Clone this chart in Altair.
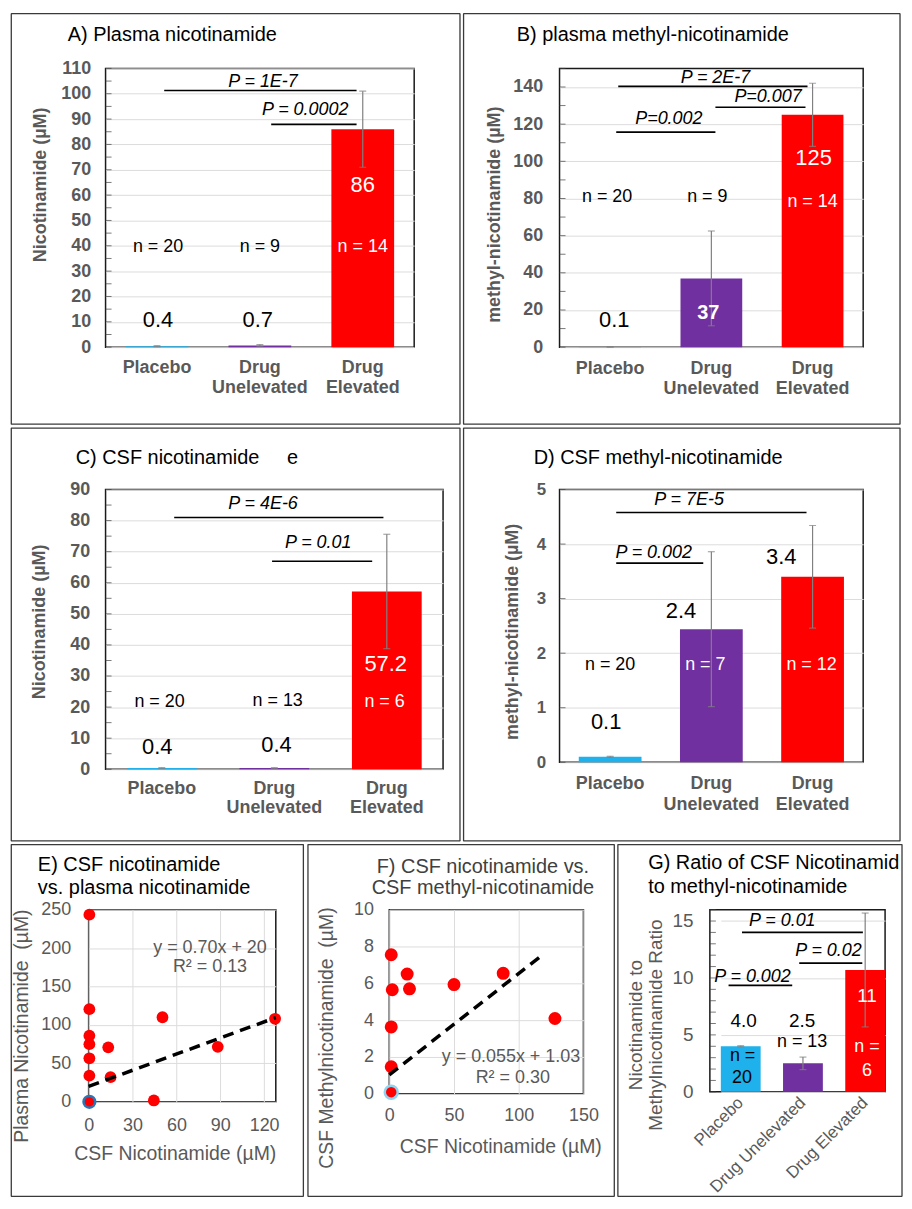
import altair as alt
import pandas as pd

FONT = "Liberation Sans"
AX_GRAY = "#595959"
GRID = "#dcdcdc"
NBSP = "\u00a0"

groups = ["Placebo", "Drug Unelevated", "Drug Elevated"]
group_colors = ["#1fb1eb", "#7030a0", "#ff0000"]

# ---------------- A) Plasma nicotinamide
a_mean = [0.4, 0.7, 86]
a_sd = [0.2, 0.3, 15]
a_minor = list(range(0, 111, 5))
a_lab_text = ["0.4", "0.7", "86", "n = 20", "n = 9", "n = 14"]
a_lab_x = [0.51, 1.48, 2.5, 0.51, 1.5, 2.5]
a_lab_y = [10.6, 10.6, 64, 39.4, 39.4, 39.4]
a_lab_inside = [False, False, True, False, False, True]
a_lab_kind = ["value", "value", "value", "n", "n", "n"]
a_p_text = ["P = 1E-7", "P = 0.0002"]
a_p_from = [0.57, 1.61]
a_p_to = [2.44, 2.44]
a_p_y = [101.3, 87.9]
a_p_tx = [1.53, 1.94]
a_p_ty = [104.8, 93.4]

# ---------------- B) plasma methyl-nicotinamide
b_mean = [0.1, 37, 125]
b_sd = [0.05, 25.5, 17]
b_minor = list(range(0, 151, 10))
b_lab_text = ["0.1", "37", "125", "n = 20", "n = 9", "n = 14"]
b_lab_x = [0.54, 1.47, 2.51, 0.47, 1.46, 2.5]
b_lab_y = [14.5, 18.2, 101.8, 80.9, 80.9, 78.2]
b_lab_inside = [False, True, True, False, False, True]
b_lab_kind = ["value", "valuebold", "value", "n", "n", "n"]
b_p_text = ["P = 2E-7", "P=0.007", "P=0.002"]
b_p_from = [0.58, 1.54, 0.56]
b_p_to = [2.45, 2.43, 1.54]
b_p_y = [140.3, 129.1, 115.7]
b_p_tx = [1.54, 2.06, 1.08]
b_p_ty = [144.6, 134.4, 122.7]

# ---------------- C) CSF nicotinamide
c_mean = [0.4, 0.4, 57.2]
c_sd = [0.1, 0.1, 18.4]
c_minor = list(range(0, 91, 5))
c_lab_text = ["0.4", "0.4", "57.2", "n = 20", "n = 13", "n = 6"]
c_lab_x = [0.46, 1.52, 2.49, 0.48, 1.53, 2.48]
c_lab_y = [7.0, 7.7, 34, 21.5, 22.1, 21.5]
c_lab_inside = [False, False, True, False, False, True]
c_lab_kind = ["value", "value", "value", "n", "n", "n"]
c_p_text = ["P = 4E-6", "P = 0.01"]
c_p_from = [0.61, 1.48]
c_p_to = [2.47, 2.37]
c_p_y = [81.0, 66.9]
c_p_tx = [1.4, 1.89]
c_p_ty = [85.2, 72.7]

# ---------------- D) CSF methyl-nicotinamide
d_mean = [0.1, 2.44, 3.4]
d_sd = [0.01, 1.42, 0.94]
d_minor = [0, 1, 2, 3, 4, 5]
d_lab_text = ["0.1", "2.4", "3.4", "n = 20", "n = 7", "n = 12"]
d_lab_x = [0.46, 1.2, 2.19, 0.5, 1.44, 2.49]
d_lab_y = [0.73, 2.77, 3.77, 1.78, 1.78, 1.78]
d_lab_inside = [False, False, False, False, True, True]
d_lab_kind = ["value", "value", "value", "n", "n", "n"]
d_p_text = ["P = 7E-5", "P = 0.002"]
d_p_from = [0.56, 0.56]
d_p_to = [2.44, 1.42]
d_p_y = [4.58, 3.65]
d_p_tx = [1.28, 0.93]
d_p_ty = [4.8, 3.83]

# ---------------- E) CSF vs plasma nicotinamide
e_csf = [0.5, 0.5, 0.5, 0.5, 0.5, 0.5, 13.4, 15, 50.5, 44.6, 88.3, 127.5]
e_plasma = [243.5, 120.5, 86, 75, 56.6, 34, 70.8, 32, 110, 1.7, 71.5, 108]
e_ring_csf = [0.5]
e_ring_plasma = [0]
e_slope, e_icpt = 0.70, 20
e_fit_x = [0, 128]
e_eq_text = ["y = 0.70x + 20", "R² = 0.13"]
e_eq_x = [83, 83]
e_eq_y = [199.5, 174.9]

# ---------------- F) CSF nicotinamide vs CSF methyl-nicotinamide
f_csf = [1.5, 13.8, 2.3, 15.6, 1.5, 1.5, 50, 88, 128]
f_methyl = [7.55, 6.5, 5.65, 5.7, 3.63, 1.47, 5.93, 6.54, 4.09]
f_ring_csf = [1.5]
f_ring_methyl = [0.09]
f_slope, f_icpt = 0.055, 1.03
f_fit_x = [0, 117]
f_eq_text = ["y = 0.055x + 1.03", "R² = 0.30"]
f_eq_x = [94, 95.4]
f_eq_y = [2.0, 0.86]

# ---------------- G) Ratio
g_mean = [4.0, 2.5, 10.7]
g_sd = [0.05, 0.55, 5.0]
g_minor = list(range(0, 17, 1))
g_lab_text = ["4.0", "2.5", "n = 13", "n =", "20", "11", "n =", "6"]
g_lab_x = [0.58, 1.58, 1.58, 0.56, 0.55, 2.69, 2.69, 2.69]
g_lab_y = [6.2, 6.2, 4.4, 3.15, 1.2, 8.4, 3.9, 1.8]
g_lab_inside = [False, False, False, False, False, True, True, True]
g_lab_kind = ["value", "value", "n", "n", "n", "value", "n", "n"]
g_p_text = ["P = 0.01", "P = 0.02", "P = 0.002"]
g_p_from = [0.55, 1.53, 0.32]
g_p_to = [2.62, 2.61, 1.41]
g_p_y = [14.0, 11.3, 9.35]
g_p_tx = [1.24, 2.03, 0.73]
g_p_ty = [15.0, 12.4, 10.1]


def border_layer(b):
    l, r, t, bt = b
    return alt.Chart(alt.Data(values=[{"k": 0}])).mark_rect(
        fillOpacity=0, stroke="#3a3a3a", strokeWidth=1.3, strokeJoin="bevel"
    ).encode(x=alt.value(l), x2=alt.value(r), y=alt.value(t), y2=alt.value(bt))


def spacer():
    return alt.Chart(alt.Data(values=[{"k": 0}])).mark_rect(fillOpacity=0).encode(
        x=alt.value(0), x2=alt.value(1), y=alt.value(0), y2=alt.value(1)
    ).properties(width=1, height=1, view=alt.ViewBackground(strokeOpacity=0, strokeWidth=0))


def text_layer(text, x, y, align="left", color="black", size=20, limit=0,
               angle=0, weight="normal"):
    kw = {}
    if limit:
        kw["limit"] = limit
        kw["ellipsis"] = "\u200b"
    if angle:
        kw["angle"] = angle
    return alt.Chart(pd.DataFrame({"t": [text]})).mark_text(
        align=align, baseline="middle", fontSize=size, color=color, font=FONT,
        fontWeight=weight, **kw
    ).encode(x=alt.value(x), y=alt.value(y), text="t:N")


def bar_panel(mean, sd, minor, lab_text, lab_x, lab_y, lab_inside, lab_kind,
              p_text, p_from, p_to, p_y, p_tx, p_ty, cfg):
    w, h = cfg["w"], cfg["h"]
    yscale = alt.Scale(domain=cfg["ydom"], nice=False, zero=True)
    xq = alt.Scale(domain=[0, 3], nice=False, zero=False)
    pad = cfg["pad"]
    if cfg.get("xrange"):
        xband = alt.Scale(domain=groups, range=cfg["xrange"], paddingInner=pad, paddingOuter=0)
    else:
        xband = alt.Scale(domain=groups, paddingInner=pad, paddingOuter=pad / 2)
    bold = cfg.get("bold", True)
    wt = "bold" if bold else "normal"
    df = pd.DataFrame({
        "grp": groups, "mean": mean,
        "lo": [m - s for m, s in zip(mean, sd)],
        "hi": [m + s for m, s in zip(mean, sd)],
    })
    if cfg.get("rot"):
        xaxis = alt.Axis(title=None, labelAngle=-45, labelAlign="right", labelBaseline="middle",
                         labelFontSize=17, labelColor=AX_GRAY, labelPadding=cfg["xlp"],
                         ticks=False, domain=False, labelFont=FONT, labelFontWeight="normal",
                         grid=False)
    else:
        xaxis = alt.Axis(title=None, labelAngle=0,
                         labelExpr="datum.label == 'Placebo' ? 'Placebo' : split(datum.label, ' ')",
                         labelFontSize=18, labelFontWeight="bold", labelColor=AX_GRAY,
                         labelPadding=cfg["xlp"], labelLineHeight=cfg["xlh"],
                         ticks=False, domain=False, labelFont=FONT, grid=False)
    yaxis = alt.Axis(values=cfg["yvals"], title=None, grid=True, gridColor=GRID,
                     ticks=False, domain=False, labelFontSize=cfg["ylfs"], labelFontWeight=wt,
                     labelColor=AX_GRAY, labelPadding=cfg["ylp"], labelFont=FONT)

    def xb():
        return alt.X("grp:N", sort=groups, scale=xband, axis=xaxis)

    def yv(field):
        return alt.Y(field, scale=yscale, axis=yaxis)

    def xa(field):
        return alt.X(field, scale=xq, axis=None)

    base = alt.Chart(df)
    bars = base.mark_bar().encode(
        x=xb(), y=yv("mean:Q"),
        color=alt.Color("grp:N", scale=alt.Scale(domain=groups, range=group_colors), legend=None),
    )
    err = base.mark_rule(color="#808080", strokeWidth=1.2).encode(
        x=xb(), y=yv("lo:Q"), y2="hi:Q")
    cap_hi = base.mark_tick(orient="horizontal", size=7, thickness=1.2, color="#808080").encode(
        x=xb(), y=yv("hi:Q"))
    cap_lo = base.mark_tick(orient="horizontal", size=7, thickness=1.2, color="#808080").encode(
        x=xb(), y=yv("lo:Q"))
    bar_group = alt.layer(bars, err, cap_hi, cap_lo)

    ldf = pd.DataFrame({"t": lab_text, "x": lab_x, "y": lab_y,
                        "inside": lab_inside, "kind": lab_kind})
    ann = []
    ann.append(alt.Chart(pd.DataFrame({"v": minor})).mark_tick(
        orient="horizontal", size=6, thickness=1, color="#404040").encode(
        x=alt.value(3), y=yv("v:Q")))
    pdf = pd.DataFrame({"t": p_text, "x1": p_from, "x2": p_to, "y": p_y, "tx": p_tx, "ty": p_ty})
    ann.append(alt.Chart(pdf).mark_rule(color="black", strokeWidth=1.6).encode(
        x=xa("x1:Q"), x2="x2:Q", y=yv("y:Q")))
    ann.append(alt.Chart(pdf).mark_text(fontStyle="italic", fontSize=cfg["psize"], font=FONT,
                                        baseline="middle", color="black").encode(
        x=xa("tx:Q"), y=yv("ty:Q"), text="t:N"))
    for inside in [False, True]:
        for kind, size in cfg["sizes"].items():
            sub = ldf[(ldf["inside"] == inside) & (ldf["kind"] == kind)][["t", "x", "y"]]
            if len(sub) == 0:
                continue
            ann.append(alt.Chart(sub).mark_text(
                fontSize=size, color="white" if inside else "black",
                fontWeight="bold" if kind == "valuebold" else "normal",
                font=FONT, baseline="middle").encode(
                x=xa("x:Q"), y=yv("y:Q"), text="t:N"))
    extra = []
    for (txt, tx, ty) in cfg["ytitle"]:
        extra.append(text_layer(txt, tx, ty, align="center", color=AX_GRAY,
                                size=cfg["ytfs"], angle=270, weight=wt))
    for t in cfg["titles"]:
        extra.append(text_layer(*t))
    return alt.layer(border_layer(cfg["border"]), bar_group, alt.layer(*ann), *extra).resolve_scale(
        x="independent").properties(width=w, height=h)


def scatter_panel(px, py, rx, ry, ring_col, fit_x, slope, icpt, eq_t, eq_x, eq_y, cfg):
    xs = alt.Scale(domain=cfg["xdom"], nice=False, zero=False)
    ys = alt.Scale(domain=cfg["ydom"], nice=False, zero=False)
    xaxis = alt.Axis(values=cfg["xvals"], title=None, grid=True, gridColor=GRID,
                     ticks=False, domain=False, labelFontSize=18, labelColor=AX_GRAY,
                     labelPadding=cfg["xlp"], labelFont=FONT, labelFlush=False)
    yaxis = alt.Axis(values=cfg["yvals"], title=None, grid=True, gridColor=GRID,
                     ticks=False, domain=False, labelFontSize=18, labelColor=AX_GRAY,
                     labelPadding=cfg["ylp"], labelFont=FONT, labelFlush=False)

    def enc(ch):
        return ch.encode(x=alt.X("x:Q", scale=xs, axis=xaxis), y=alt.Y("y:Q", scale=ys, axis=yaxis))

    pts = enc(alt.Chart(pd.DataFrame({"x": px, "y": py})).mark_circle(
        size=cfg["size"], color="#ff0000", opacity=1))
    ring = enc(alt.Chart(pd.DataFrame({"x": rx, "y": ry})).mark_circle(
        size=cfg["size"], fill="#ff0000", stroke=ring_col, strokeWidth=2.5, opacity=1))
    fit = enc(alt.Chart(pd.DataFrame({"x": fit_x, "y": [slope * v + icpt for v in fit_x]})).mark_line(
        color="black", strokeWidth=3.5, strokeDash=[11, 7]))
    eq = alt.Chart(pd.DataFrame({"t": eq_t, "x": eq_x, "y": eq_y})).mark_text(
        fontSize=18, color=AX_GRAY, font=FONT, baseline="middle").encode(
        x=alt.X("x:Q", scale=xs, axis=xaxis), y=alt.Y("y:Q", scale=ys, axis=yaxis), text="t:N")
    layers = [border_layer(cfg["border"]), pts, ring, fit, eq,
              text_layer(cfg["xtitle"], cfg["xtx"], cfg["h"] + cfg["xty"], align="center",
                         color=AX_GRAY, size=19.5),
              text_layer(cfg["ytitle"], cfg["ytx"], cfg["yty"], align="center",
                         color=AX_GRAY, size=19.5, angle=270)]
    for t in cfg["titles"]:
        layers.append(text_layer(*t))
    return alt.layer(*layers).properties(width=cfg["w"], height=cfg["h"])


bar_sizes = {"value": 22, "valuebold": 20, "n": 18}

panel_a = bar_panel(a_mean, a_sd, a_minor, a_lab_text, a_lab_x, a_lab_y, a_lab_inside, a_lab_kind,
                    a_p_text, a_p_from, a_p_to, a_p_y, a_p_tx, a_p_ty, dict(
                        w=310, h=280, ydom=[0, 110], yvals=list(range(0, 111, 10)),
                        ytitle=[("Nicotinamide (µM)", -65, 117)], pad=0.39,
                        border=(-94.7, 356, -55, 357.4),
                        titles=[("A) Plasma nicotinamide", -38, -34)],
                        xlp=11, xlh=21, ylfs=18, ytfs=18, ylp=15,
                        sizes=bar_sizes, psize=18))

panel_b = bar_panel(b_mean, b_sd, b_minor, b_lab_text, b_lab_x, b_lab_y, b_lab_inside, b_lab_kind,
                    b_p_text, b_p_from, b_p_to, b_p_y, b_p_tx, b_p_ty, dict(
                        w=305, h=280, ydom=[0, 150], yvals=list(range(0, 141, 20)),
                        ytitle=[("methyl-nicotinamide (µM)", -65, 147)], pad=0.39,
                        border=(-96.4, 342, -55, 357.4),
                        titles=[("B) plasma methyl-nicotinamide", -43, -34)],
                        xlp=12, xlh=21, ylfs=18, ytfs=18, ylp=17,
                        sizes=bar_sizes, psize=18))

panel_c = bar_panel(c_mean, c_sd, c_minor, c_lab_text, c_lab_x, c_lab_y, c_lab_inside, c_lab_kind,
                    c_p_text, c_p_from, c_p_to, c_p_y, c_p_tx, c_p_ty, dict(
                        w=339, h=281, ydom=[0, 90], yvals=list(range(0, 91, 10)),
                        ytitle=[("Nicotinamide (µM)", -66, 133)], pad=0.38,
                        border=(-94.7, 356, -61.7, 353),
                        titles=[("C) CSF nicotinamide" + NBSP * 5 + "e", -30, -32)],
                        xlp=10, xlh=19, ylfs=18, ytfs=18, ylp=16,
                        sizes=bar_sizes, psize=18))

panel_d = bar_panel(d_mean, d_sd, d_minor, d_lab_text, d_lab_x, d_lab_y, d_lab_inside, d_lab_kind,
                    d_p_text, d_p_from, d_p_to, d_p_y, d_p_tx, d_p_ty, dict(
                        w=305, h=274, ydom=[0, 5], yvals=[0, 1, 2, 3, 4, 5],
                        ytitle=[("methyl-nicotinamide (µM)", -47, 143)], pad=0.38,
                        border=(-96.4, 342, -61.7, 353),
                        titles=[("D) CSF methyl-nicotinamide", -26, -32)],
                        xlp=12, xlh=21, ylfs=17, ytfs=18, ylp=14,
                        sizes=bar_sizes, psize=18))

panel_e = scatter_panel(e_csf, e_plasma, e_ring_csf, e_ring_plasma, "#2e75b6", e_fit_x,
                        e_slope, e_icpt, e_eq_text, e_eq_x, e_eq_y, dict(
                            w=188, h=193, xdom=[0, 128], xvals=[0, 30, 60, 90, 120],
                            ydom=[0, 250], yvals=[0, 50, 100, 150, 200, 250],
                            xtitle="CSF Nicotinamide (µM)",
                            ytitle="Plasma Nicotinamide" + NBSP + " (µM)",
                            border=(-77.7, 215.7, -65.4, 288), size=140,
                            xlp=15, ylp=18, xtx=87, xty=52, ytx=-67, yty=117,
                            titles=[("E) CSF nicotinamide", -51, -45),
                                    ("vs. plasma nicotinamide", -51, -22)]))

panel_f = scatter_panel(f_csf, f_methyl, f_ring_csf, f_ring_methyl, "#8fd3f2", f_fit_x,
                        f_slope, f_icpt, f_eq_text, f_eq_x, f_eq_y, dict(
                            w=195, h=185, xdom=[0, 150], xvals=[0, 50, 100, 150],
                            ydom=[0, 10], yvals=[0, 2, 4, 6, 8, 10],
                            xtitle="CSF Nicotinamide (µM)",
                            ytitle="CSF Methylnicotinamide" + NBSP + " (µM)",
                            border=(-81.7, 226, -65.4, 288), size=170,
                            xlp=13, ylp=16, xtx=112, xty=53, ytx=-63, yty=129,
                            titles=[("F) CSF nicotinamide vs.", 94, -43, "center", "#404040"),
                                    ("CSF methyl-nicotinamide", 94, -22, "center", "#404040")]))

panel_g = bar_panel(g_mean, g_sd, g_minor, g_lab_text, g_lab_x, g_lab_y, g_lab_inside, g_lab_kind,
                    g_p_text, g_p_from, g_p_to, g_p_y, g_p_tx, g_p_ty, dict(
                        w=176, h=183, ydom=[0, 16], yvals=[0, 5, 10, 15],
                        ytitle=[("Nicotinamide to", -74, 116),
                                ("Methylnicotinamide Ratio", -54, 116)], pad=0.36,
                        xrange=[11, 176],
                        border=(-92.4, 193, -65.4, 288), bold=False, rot=True,
                        titles=[("G) Ratio of CSF Nicotinamide", -62, -47, "left", "black", 20, 254),
                                ("to methyl-nicotinamide", -62, -23)],
                        xlp=8, xlh=20, ylfs=19, ytfs=19, ylp=17,
                        sizes={"value": 19, "n": 18}, psize=18))

chart = alt.vconcat(
    alt.hconcat(spacer(), panel_a, panel_b, spacing=0),
    alt.hconcat(spacer(), panel_c, panel_d, spacing=0),
    alt.hconcat(spacer(), panel_e, panel_f, panel_g, spacing=0),
    spacing=0,
).properties(
    padding={"left": 0, "top": 1, "right": 0, "bottom": 0}
).configure(font=FONT).configure_view(
    stroke="#1a1a1a", strokeWidth=1.5
)

chart.save("out.html", embed_options={"renderer": "svg", "actions": False})
